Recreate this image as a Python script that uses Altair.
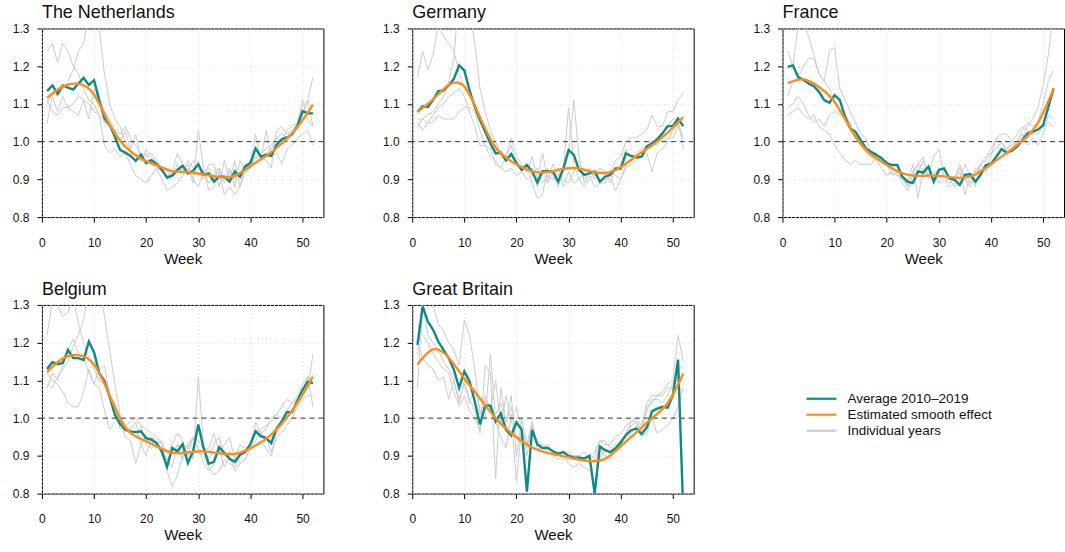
import altair as alt
import pandas as pd

weeks = list(range(1, 53))
smooth_weeks = [1, 4, 7, 10, 13, 16, 19, 22, 25, 28, 31, 34, 37, 40, 43, 46, 49, 52]

countries = ["The Netherlands", "Germany", "France", "Belgium", "Great Britain"]

avg_nl = [1.134, 1.149, 1.127, 1.149, 1.143, 1.138, 1.154, 1.169, 1.150, 1.163, 1.110, 1.061, 1.044,
          1.013, 0.978, 0.971, 0.962, 0.949, 0.965, 0.943, 0.951, 0.941, 0.925, 0.905, 0.910, 0.925,
          0.936, 0.916, 0.923, 0.940, 0.912, 0.916, 0.894, 0.907, 0.907, 0.894, 0.921, 0.907, 0.934,
          0.944, 0.982, 0.960, 0.965, 0.962, 0.991, 1.006, 1.011, 1.019, 1.041, 1.081, 1.075, 1.075]
avg_de = [1.079, 1.094, 1.092, 1.110, 1.134, 1.136, 1.149, 1.167, 1.202, 1.189, 1.136, 1.092, 1.057,
          1.026, 0.995, 0.969, 0.971, 0.950, 0.967, 0.943, 0.925, 0.938, 0.921, 0.892, 0.922, 0.922,
          0.921, 0.894, 0.929, 0.978, 0.965, 0.925, 0.912, 0.916, 0.921, 0.894, 0.907, 0.912, 0.929,
          0.929, 0.969, 0.962, 0.958, 0.960, 0.987, 0.995, 1.006, 1.022, 1.041, 1.041, 1.061, 1.041]
avg_fr = [1.198, 1.202, 1.171, 1.164, 1.154, 1.147, 1.132, 1.110, 1.103, 1.123, 1.110, 1.066, 1.035,
          1.026, 1.004, 0.982, 0.973, 0.965, 0.956, 0.943, 0.938, 0.938, 0.907, 0.894, 0.890, 0.921,
          0.918, 0.934, 0.894, 0.925, 0.929, 0.903, 0.899, 0.885, 0.912, 0.914, 0.894, 0.912, 0.938,
          0.941, 0.960, 0.980, 0.971, 0.976, 0.987, 1.004, 1.022, 1.026, 1.032, 1.044, 1.092, 1.141]
avg_be = [1.130, 1.148, 1.143, 1.146, 1.181, 1.159, 1.159, 1.154, 1.203, 1.175, 1.119, 1.099, 1.057,
          1.009, 0.984, 0.969, 0.965, 0.963, 0.965, 0.947, 0.943, 0.934, 0.912, 0.871, 0.921, 0.912,
          0.931, 0.881, 0.912, 0.983, 0.921, 0.879, 0.884, 0.923, 0.908, 0.892, 0.884, 0.903, 0.910,
          0.931, 0.965, 0.952, 0.947, 0.934, 0.972, 0.991, 1.016, 1.016, 1.046, 1.075, 1.097, 1.093]
avg_gb = [1.194, 1.296, 1.256, 1.234, 1.203, 1.181, 1.159, 1.128, 1.080, 1.124, 1.097, 1.044, 0.983,
          1.033, 1.033, 0.991, 1.013, 0.969, 0.954, 0.989, 0.969, 0.805, 0.969, 0.930, 0.921, 0.921,
          0.912, 0.905, 0.910, 0.900, 0.895, 0.895, 0.893, 0.900, 0.800, 0.925, 0.915, 0.910, 0.920,
          0.935, 0.955, 0.968, 0.972, 0.958, 0.975, 1.018, 1.025, 1.030, 1.028, 1.060, 1.155, 0.750]

smooth_nl = [1.116, 1.146, 1.153, 1.125, 1.045, 0.987, 0.955, 0.937, 0.922, 0.919, 0.913, 0.906,
             0.909, 0.935, 0.962, 0.995, 1.038, 1.098]
smooth_de = [1.079, 1.112, 1.150, 1.146, 1.065, 0.985, 0.948, 0.926, 0.918, 0.925, 0.930, 0.922,
             0.917, 0.932, 0.962, 0.990, 1.024, 1.065]
smooth_fr = [1.155, 1.165, 1.145, 1.105, 1.035, 0.978, 0.947, 0.922, 0.910, 0.910, 0.908, 0.904,
             0.913, 0.940, 0.970, 1.002, 1.050, 1.140]
smooth_be = [1.122, 1.158, 1.167, 1.142, 1.060, 0.975, 0.945, 0.925, 0.908, 0.909, 0.912, 0.907,
             0.905, 0.920, 0.945, 0.985, 1.040, 1.110]
smooth_gb = [1.142, 1.182, 1.160, 1.105, 1.052, 1.000, 0.960, 0.930, 0.911, 0.902, 0.893, 0.886,
             0.892, 0.925, 0.962, 1.000, 1.040, 1.118]

years_nl = [
    [1.24, 1.26, 1.21, 1.26, 1.24, 1.20, 1.18, 1.14, 1.11, 1.10, 1.07, 1.05, 1.04, 1.03, 1.02, 1.04, 1.01, 0.99,
     0.97, 0.96, 0.97, 0.95, 0.93, 0.92, 0.91, 0.93, 0.92, 0.95, 0.93, 0.91, 0.92, 0.93, 0.90, 0.93, 0.89, 0.92,
     0.90, 0.92, 0.93, 0.94, 0.96, 0.97, 0.98, 0.99, 1.01, 1.02, 1.01, 1.02, 1.04, 1.07, 1.11, 1.17],
    [1.10, 1.13, 1.12, 1.14, 1.16, 1.19, 1.24, 1.26, 1.35, 1.42, 1.30, 1.18, 1.10, 1.06, 1.04, 1.00, 0.98, 0.96,
     0.95, 0.97, 0.94, 0.93, 0.93, 0.90, 0.91, 0.94, 0.92, 0.94, 0.90, 0.88, 0.92, 0.89, 0.91, 0.93, 0.90, 0.93,
     0.88, 0.95, 0.92, 0.93, 0.96, 0.95, 0.97, 0.98, 1.01, 1.00, 1.03, 1.04, 1.05, 1.09, 1.11, 1.04],
    [1.05, 1.12, 1.08, 1.12, 1.09, 1.08, 1.07, 1.11, 1.10, 1.08, 1.07, 0.99, 0.97, 0.98, 0.96, 0.97, 0.94, 0.91,
     0.90, 0.89, 0.91, 0.93, 0.90, 0.87, 0.88, 0.89, 0.91, 0.93, 0.89, 1.03, 0.93, 0.87, 0.88, 0.92, 0.86, 0.88,
     0.86, 0.88, 0.92, 0.94, 1.02, 0.95, 1.03, 0.96, 0.97, 0.94, 0.98, 0.99, 1.01, 1.02, 1.03, 0.99],
    [1.11, 1.08, 1.07, 1.09, 1.09, 1.10, 1.12, 1.11, 1.06, 1.14, 1.11, 1.08, 1.06, 1.03, 1.00, 1.03, 0.98, 1.02,
     0.95, 0.98, 0.96, 0.94, 0.92, 0.91, 0.92, 0.97, 0.94, 0.92, 0.95, 0.94, 0.90, 0.94, 0.94, 0.88, 0.95, 0.90,
     0.95, 0.88, 0.94, 0.93, 0.98, 0.96, 0.95, 0.93, 1.03, 1.04, 1.02, 1.03, 1.05, 1.11, 1.06, 1.04],
]
years_de = [
    [1.17, 1.24, 1.19, 1.23, 1.31, 1.28, 1.26, 1.24, 1.18, 1.14, 1.12, 1.10, 1.06, 1.03, 1.01, 0.98, 0.96, 0.95,
     0.97, 0.95, 0.93, 0.92, 0.96, 0.90, 0.97, 0.90, 0.94, 0.91, 0.93, 1.09, 0.94, 0.90, 0.92, 0.93, 0.90, 0.92,
     0.91, 0.92, 0.95, 0.96, 1.00, 1.01, 1.01, 1.02, 1.03, 1.07, 1.04, 1.04, 1.08, 1.08, 1.11, 1.13],
    [1.06, 1.06, 1.07, 1.08, 1.10, 1.12, 1.16, 1.22, 1.40, 1.45, 1.35, 1.26, 1.14, 1.08, 1.03, 1.00, 0.97, 0.96,
     0.99, 0.94, 0.93, 0.94, 0.89, 0.85, 0.86, 0.93, 0.91, 0.88, 0.92, 0.97, 1.11, 0.96, 0.89, 0.91, 0.88, 0.89,
     0.90, 0.91, 0.87, 0.90, 0.93, 0.94, 0.95, 0.96, 0.97, 0.92, 0.97, 0.98, 1.00, 1.03, 1.05, 1.01],
    [1.04, 1.06, 1.05, 1.05, 1.07, 1.06, 1.06, 1.06, 1.08, 1.09, 1.09, 1.08, 1.03, 0.99, 0.98, 0.94, 0.93, 0.96,
     1.01, 0.96, 0.94, 0.92, 0.93, 0.88, 0.92, 0.89, 0.92, 0.93, 0.88, 0.92, 0.89, 0.90, 0.88, 0.90, 0.92, 0.89,
     0.89, 0.92, 0.91, 0.90, 0.94, 0.95, 0.96, 0.97, 0.99, 1.00, 0.99, 1.02, 1.04, 1.06, 1.06, 0.98],
    [1.05, 1.03, 1.05, 1.07, 1.09, 1.10, 1.12, 1.13, 1.14, 1.12, 1.08, 1.04, 0.99, 0.99, 0.96, 0.95, 0.93, 0.92,
     0.93, 0.91, 0.92, 0.90, 0.91, 0.93, 0.89, 0.91, 0.90, 0.91, 0.90, 0.89, 0.92, 0.95, 0.90, 0.92, 0.91, 0.93,
     0.92, 0.89, 0.93, 0.94, 0.98, 0.96, 0.97, 0.98, 0.99, 1.00, 1.01, 1.00, 1.01, 1.01, 1.04, 1.01],
]
years_fr = [
    [1.24, 1.20, 1.31, 1.31, 1.28, 1.23, 1.18, 1.16, 1.14, 1.11, 1.08, 1.06, 1.03, 1.01, 0.99, 0.97, 0.96, 0.95,
     0.96, 0.94, 0.93, 0.92, 0.89, 0.87, 0.90, 0.92, 0.95, 0.91, 0.96, 0.98, 0.91, 0.90, 0.88, 0.90, 0.94, 0.91,
     0.92, 0.94, 0.96, 0.98, 1.01, 1.02, 1.02, 1.00, 0.99, 1.01, 1.04, 1.06, 1.09, 1.15, 1.23, 1.35],
    [1.12, 1.16, 1.17, 1.20, 1.22, 1.22, 1.18, 1.16, 1.24, 1.25, 1.14, 1.11, 1.08, 1.05, 1.02, 1.01, 0.97, 0.96,
     0.95, 0.94, 0.91, 0.92, 0.90, 0.89, 0.94, 0.85, 0.93, 0.91, 0.92, 0.89, 0.90, 0.88, 0.89, 0.92, 0.86, 0.91,
     0.88, 0.94, 0.92, 0.94, 0.96, 0.97, 0.98, 0.99, 1.00, 1.03, 1.05, 1.04, 1.05, 1.10, 1.16, 1.19],
    [1.07, 1.08, 1.09, 1.07, 1.06, 1.07, 1.04, 1.03, 1.02, 0.99, 0.97, 0.95, 0.94, 0.95, 0.94, 0.94, 0.94, 0.96,
     0.95, 0.95, 0.92, 0.91, 0.90, 0.88, 0.92, 0.94, 0.96, 0.90, 0.91, 0.93, 0.92, 0.91, 0.90, 0.94, 0.90, 0.89,
     0.91, 0.94, 0.95, 0.97, 0.98, 1.00, 0.98, 1.00, 1.02, 1.04, 1.03, 1.02, 1.02, 1.04, 1.05, 1.04],
    [1.09, 1.10, 1.12, 1.10, 1.07, 1.05, 1.06, 1.04, 1.07, 1.08, 1.07, 1.07, 1.05, 1.01, 0.99, 0.98, 0.96, 0.95,
     0.93, 0.91, 0.92, 0.91, 0.91, 0.88, 0.91, 0.94, 0.92, 0.93, 0.90, 0.92, 0.91, 0.89, 0.90, 0.93, 0.90, 0.88,
     0.93, 0.92, 0.93, 0.96, 1.01, 1.00, 0.97, 0.98, 1.00, 1.02, 0.99, 1.01, 0.99, 1.02, 1.07, 1.06],
]
years_be = [
    [1.22, 1.31, 1.30, 1.27, 1.28, 1.32, 1.25, 1.20, 1.16, 1.13, 1.10, 1.09, 1.05, 1.03, 0.99, 0.97, 0.96, 0.95,
     0.98, 0.93, 0.95, 0.93, 0.94, 0.86, 0.82, 0.85, 0.90, 0.93, 0.95, 0.92, 0.90, 0.87, 0.85, 0.86, 0.89, 0.88,
     0.87, 0.90, 0.91, 0.93, 0.97, 0.96, 0.95, 0.91, 0.96, 0.98, 1.00, 1.02, 1.04, 1.06, 1.08, 1.17],
    [1.09, 1.08, 1.11, 1.13, 1.15, 1.19, 1.22, 1.26, 1.35, 1.40, 1.34, 1.27, 1.18, 1.09, 1.01, 0.98, 0.97, 0.99,
     0.93, 0.95, 0.92, 0.93, 0.92, 0.89, 0.91, 0.93, 0.91, 0.93, 0.89, 1.11, 0.93, 0.89, 0.93, 0.95, 0.90, 0.91,
     0.90, 0.88, 0.89, 0.92, 0.94, 0.97, 0.98, 0.99, 1.01, 1.03, 1.05, 1.04, 1.06, 1.09, 1.11, 1.03],
    [1.12, 1.10, 1.09, 1.07, 1.04, 1.03, 1.03, 1.07, 1.13, 1.09, 1.08, 1.02, 0.97, 0.99, 1.00, 0.95, 0.94, 0.88,
     0.93, 0.90, 0.95, 0.94, 0.90, 0.89, 0.87, 0.93, 0.89, 0.92, 0.95, 0.92, 0.88, 0.86, 0.88, 0.92, 0.87, 0.90,
     0.86, 0.88, 0.89, 0.92, 0.93, 0.94, 0.92, 0.90, 0.95, 0.96, 0.98, 1.00, 1.03, 1.05, 1.06, 1.06],
    [1.08, 1.12, 1.10, 1.14, 1.18, 1.21, 1.17, 1.16, 1.12, 1.09, 1.13, 1.14, 1.06, 1.04, 0.97, 0.98, 0.99, 1.00,
     0.98, 0.97, 0.96, 0.95, 0.93, 0.91, 0.93, 0.96, 0.94, 0.90, 0.95, 0.94, 0.92, 0.92, 0.96, 0.91, 0.93, 0.95,
     0.89, 0.93, 0.92, 0.93, 0.99, 0.96, 0.97, 1.00, 1.01, 1.00, 1.02, 1.04, 1.05, 1.07, 1.11, 1.09],
]
years_gb = [
    [1.17, 1.30, 1.34, 1.30, 1.25, 1.23, 1.20, 1.18, 1.14, 1.26, 1.22, 1.13, 1.01, 1.06, 1.02, 1.10, 0.98, 1.06,
     0.99, 1.03, 0.97, 0.93, 0.99, 0.93, 0.92, 0.93, 0.91, 0.90, 0.91, 0.90, 0.90, 0.90, 0.89, 0.90, 0.91, 0.94,
     0.93, 0.93, 0.95, 0.96, 0.98, 0.99, 1.00, 0.98, 1.04, 1.06, 1.06, 1.07, 1.09, 1.10, 1.22, 1.15],
    [1.08, 1.30, 1.22, 1.20, 1.18, 1.15, 1.13, 1.10, 1.04, 1.10, 1.05, 1.02, 0.96, 1.14, 1.12, 0.84, 1.08, 0.99,
     1.06, 0.90, 1.00, 0.93, 0.97, 0.94, 0.93, 0.92, 0.91, 0.91, 0.89, 0.89, 0.89, 0.90, 0.89, 0.88, 0.89, 0.92,
     0.90, 0.89, 0.92, 0.94, 0.96, 0.98, 0.99, 0.97, 1.02, 1.05, 1.05, 1.04, 1.06, 1.09, 1.13, 1.14],
    [1.20, 1.16, 1.14, 1.13, 1.10, 1.11, 1.05, 1.10, 1.05, 1.09, 1.04, 1.08, 1.02, 1.00, 1.17, 0.99, 0.95, 0.92,
     1.01, 0.83, 0.98, 0.90, 0.98, 0.92, 0.92, 0.91, 0.90, 0.89, 0.90, 0.88, 0.87, 0.88, 0.87, 0.86, 0.87, 0.89,
     0.92, 0.91, 0.92, 0.93, 0.94, 0.96, 0.98, 0.95, 0.96, 1.00, 0.96, 0.97, 0.98, 1.00, 1.03, 1.08],
    [1.25, 1.22, 1.20, 1.17, 1.15, 1.13, 1.12, 1.07, 1.03, 1.06, 1.02, 1.00, 0.97, 1.05, 1.03, 1.01, 1.04, 0.99,
     1.03, 0.95, 0.95, 0.92, 0.99, 0.93, 0.93, 0.92, 0.91, 0.91, 0.91, 0.91, 0.90, 0.90, 0.91, 0.89, 0.90, 0.94,
     0.94, 0.92, 0.93, 0.94, 0.96, 0.99, 0.99, 0.96, 1.03, 1.04, 1.06, 1.06, 1.08, 1.08, 1.11, 1.10],
]

y_ticks = [0.8, 0.9, 1.0, 1.1, 1.2, 1.3]
x_ticks = [0, 10, 20, 30, 40, 50]
ref_level = [1.0]

series_names = ["Average 2010\u20132019", "Estimated smooth effect", "Individual years"]
series_colors = ["#0E8A85", "#FF8C1A", "#CCCCCC"]

avg_all = [avg_nl, avg_de, avg_fr, avg_be, avg_gb]
smooth_all = [smooth_nl, smooth_de, smooth_fr, smooth_be, smooth_gb]
years_all = [years_nl, years_de, years_fr, years_be, years_gb]

rows = []
for c, avg, sm, yrs in zip(countries, avg_all, smooth_all, years_all):
    for i, ys in enumerate(yrs):
        for w, v in zip(weeks, ys):
            rows.append({"country": c, "week": w, "value": v, "series": series_names[2], "line": f"y{i}"})
    for w, v in zip(weeks, avg):
        rows.append({"country": c, "week": w, "value": v, "series": series_names[0], "line": "avg"})
    for w, v in zip(smooth_weeks, sm):
        rows.append({"country": c, "week": w, "value": v, "series": series_names[1], "line": "smooth"})
df = pd.DataFrame(rows)
ref_df = pd.DataFrame({"value": ref_level})

FONT = "Liberation Sans"

color = alt.Color(
    "series:N",
    scale=alt.Scale(domain=series_names, range=series_colors),
    legend=alt.Legend(
        title=None, orient="none", legendX=772, legendY=362,
        labelFontSize=13.5, labelFont=FONT, labelColor="#111",
        symbolType="M-2,0L2,0", symbolStrokeWidth=2.2, symbolSize=225,
        rowPadding=0, labelOffset=17,
    ),
)

x = alt.X("week:Q", scale=alt.Scale(domain=[0, 54], nice=False, zero=False),
          axis=alt.Axis(values=x_ticks, title="Week", labelPadding=15))
y = alt.Y("value:Q", scale=alt.Scale(domain=[0.8, 1.3], nice=False, zero=False),
          axis=alt.Axis(values=y_ticks, format=".1f", title=None, labelPadding=8))


def panel(country):
    d = df[df.country == country]
    base = alt.Chart(d)
    gray = base.transform_filter(alt.datum.series == series_names[2]).mark_line(
        strokeWidth=1, clip=True).encode(x=x, y=y, color=color, detail="line:N")
    ref = alt.Chart(ref_df).mark_rule(
        color="#333", strokeDash=[5, 4], strokeWidth=1).encode(y=y)
    avg = base.transform_filter(alt.datum.series == series_names[0]).mark_line(
        strokeWidth=2.4, clip=True).encode(x=x, y=y, color=color)
    sm = base.transform_filter(alt.datum.series == series_names[1]).mark_line(
        strokeWidth=2.4, clip=True, interpolate="natural").encode(x=x, y=y, color=color)
    return alt.layer(gray, ref, avg, sm).properties(
        width=282, height=189,
        title=alt.TitleParams(country, anchor="start", frame="group", fontSize=18,
                              font=FONT, fontWeight="normal", color="#111", offset=0),
    )


p = [panel(c) for c in countries]
row1 = alt.hconcat(p[0], p[1], p[2], spacing=57)
row2 = alt.hconcat(p[3], p[4], spacing=57)
chart = alt.vconcat(row1, row2, spacing=13).properties(
    padding={"left": 11, "top": 3, "right": 0, "bottom": 0}
).configure_view(
    stroke="black", strokeWidth=1
).configure_title(
    font=FONT, fontWeight="normal", fontSize=18, color="#111"
).configure_axis(
    labelFont=FONT, titleFont=FONT, labelFontSize=12, titleFontSize=15,
    titleFontWeight="normal", labelColor="#111", titleColor="#111",
    domain=False, tickColor="black", tickSize=5, titlePadding=3,
    labelOverlap=False, labelFlush=False,
    grid=True, gridColor="#DADADA", gridDash=[1, 3], gridWidth=1,
).configure_axisY(
    labelAlign="right"
)

chart.save("out.html", embed_options={"renderer": "svg", "actions": False})
